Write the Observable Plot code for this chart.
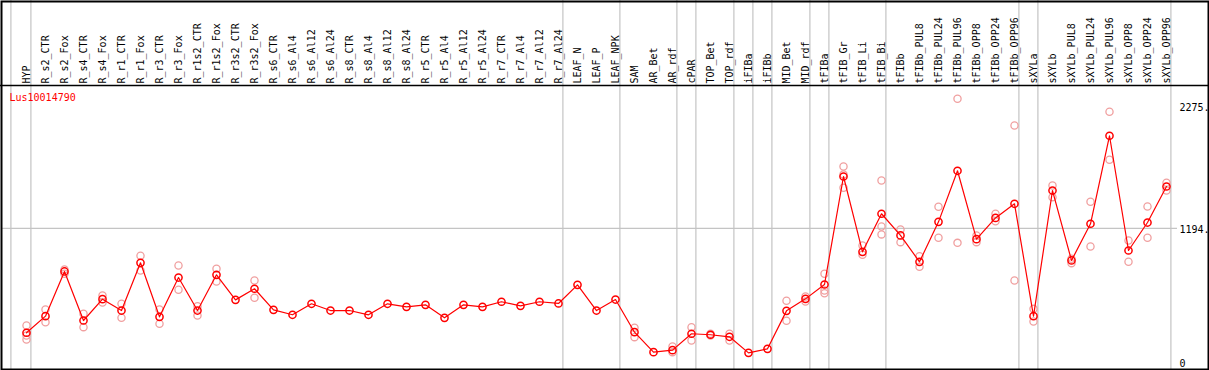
<!DOCTYPE html>
<html>
<head>
<meta charset="utf-8">
<script src="https://cdn.jsdelivr.net/npm/d3@7"></script>
<script src="https://cdn.jsdelivr.net/npm/@observablehq/plot@0.6"></script>
<style>
  html, body { margin: 0; padding: 0; background: white; }
  #chart svg { display: block; }
</style>
</head>
<body>
<div id="chart"></div>
<script>
const title = "Lus10014790";

const categories = [
  "HYP","R_s2_CTR","R_s2_Fox","R_s4_CTR","R_s4_Fox","R_r1_CTR","R_r1_Fox","R_r3_CTR","R_r3_Fox",
  "R_r1s2_CTR","R_r1s2_Fox","R_r3s2_CTR","R_r3s2_Fox","R_s6_CTR","R_s6_Al4","R_s6_Al12","R_s6_Al24",
  "R_s8_CTR","R_s8_Al4","R_s8_Al12","R_s8_Al24","R_r5_CTR","R_r5_Al4","R_r5_Al12","R_r5_Al24",
  "R_r7_CTR","R_r7_Al4","R_r7_Al12","R_r7_Al24","LEAF_N","LEAF_P","LEAF_NPK","SAM","AR_Bet","AR_rdf",
  "cPAR","TOP_Bet","TOP_rdf","iFIBa","iFIBb","MID_Bet","MID_rdf","tFIBa","tFIB_Gr","tFIB_Li","tFIB_Bi",
  "tFIBb","tFIBb_PUL8","tFIBb_PUL24","tFIBb_PUL96","tFIBb_OPP8","tFIBb_OPP24","tFIBb_OPP96",
  "sXYLa","sXYLb","sXYLb_PUL8","sXYLb_PUL24","sXYLb_PUL96","sXYLb_OPP8","sXYLb_OPP24","sXYLb_OPP96"
];

const means = [
  265, 413, 811, 374, 564, 463, 888, 407, 757,
  463, 781, 558, 657, 469, 425, 523, 463,
  463, 425, 523, 496, 514, 398, 514, 496,
  541, 505, 541, 526, 692, 463, 561, 270, 92, 110,
  256, 247, 229, 86, 122, 460, 567, 695, 1657, 986, 1325,
  1132, 897, 1253, 1708, 1099, 1288, 1414,
  413, 1532, 909, 1236, 2020, 998, 1247, 1568
];

const rep1 = [
  330, 472, 829, 434, 597, 523, 951, 472, 864,
  502, 835, null, 731, null, null, null, null,
  null, null, null, null, null, null, null, null,
  null, null, null, null, null, null, null, 309, null, 143,
  315, 256, 256, null, null, 550, 588, 790, 1746, 1042, 1622,
  1185, 947, 1387, 2350, 1132, 1325, 2112,
  478, 1577, 885, 1432, 2234, 1087, 1390, 1601
];

const rep2 = [
  240, 359, 790, 315, 535, 398, 820, 345, 648,
  419, 722, null, 577, null, null, null, null,
  null, null, null, null, null, null, null, null,
  null, null, null, null, null, null, null, 226, null, 92,
  196, 240, 196, null, null, 372, 544, 641, 1557, 960, 1212,
  1072, 853, 1111, 1066, 1072, 1259, 731,
  365, 1473, 924, 1034, 1806, 897, 1111, 1532
];

const rep3 = [
  205, null, null, null, null, null, null, null, null,
  null, null, null, null, null, null, null, null,
  null, null, null, null, null, null, null, null,
  null, null, null, null, null, null, null, null, null, null,
  null, null, null, null, null, null, null, 617, 1675, null, 1141,
  null, null, null, null, null, null, null,
  null, null, null, null, null, null, null, null
];

// last category of each group (separator drawn just after it)
const groupEnds = ["HYP","R_r7_Al24","LEAF_NPK","AR_rdf","cPAR","TOP_rdf","iFIBa","iFIBb",
  "MID_rdf","tFIBa","tFIB_Bi","tFIBb_OPP96","sXYLa","sXYLb_OPP96"];

const yTicks = [2275, 1194, 0];
const yTickLabels = ["2275.", "1194.", "0"];
const gridValues = [1194];

const meanData = categories.map((c, i) => ({cat: c, v: means[i]}));
const repData = [];
[rep1, rep2, rep3].forEach(arr => arr.forEach((v, i) => {
  if (v != null) repData.push({cat: categories[i], v});
}));
const tickData = yTicks.map((v, i) => ({v, label: yTickLabels[i]}));

const red = "#ff0000";
const pink = "#f0a0a0";
const grey = "#c4c4c4";

const chart = Plot.plot({
  width: 1209,
  height: 370,
  margin: 0,
  style: {fontFamily: "'DejaVu Sans Mono', monospace", fontSize: "10px", background: "white", color: "black"},
  x: {type: "point", domain: categories, range: [26.3, 1166.3], padding: 0, axis: null},
  y: {domain: [0, 2441], range: [362, 88], axis: null},
  marks: [
    Plot.ruleY(gridValues, {stroke: grey, strokeWidth: 1.2, insetLeft: 2, insetRight: 32}),
    Plot.ruleX(groupEnds, {x: d => d, dx: 4.4, stroke: grey, strokeWidth: 1.2}),
    Plot.ruleX(["HYP"], {x: d => d, dx: -15.6, stroke: grey, strokeWidth: 1.2}),
    Plot.text(categories, {x: d => d, frameAnchor: "top", dy: 83, rotate: -90,
      textAnchor: "start", lineAnchor: "middle", fill: "black", fontSize: 10}),
    Plot.text([title], {frameAnchor: "top-left", dx: 9, dy: 97, textAnchor: "start",
      lineAnchor: "middle", fill: red, fontSize: 10}),
    Plot.text(tickData, {y: "v", text: "label", frameAnchor: "right", dx: -30,
      textAnchor: "start", lineAnchor: "middle", dy: 1, fill: "black", fontSize: 10}),
    Plot.dot(repData, {x: "cat", y: "v", r: 3.6, stroke: pink, strokeWidth: 1.3, fill: "none"}),
    Plot.line(meanData, {x: "cat", y: "v", stroke: red, strokeWidth: 1.2}),
    Plot.dot(meanData, {x: "cat", y: "v", r: 3.6, stroke: red, strokeWidth: 1.5, fill: "none"}),
    Plot.frame({stroke: "black", strokeWidth: 2, inset: 1})
  ]
});

// header separator line under the category labels
d3.select(chart).append("line")
  .attr("x1", 0).attr("x2", 1209)
  .attr("y1", 85.5).attr("y2", 85.5)
  .attr("stroke", "black").attr("stroke-width", 1.5);

document.getElementById("chart").appendChild(chart);
</script>
</body>
</html>
